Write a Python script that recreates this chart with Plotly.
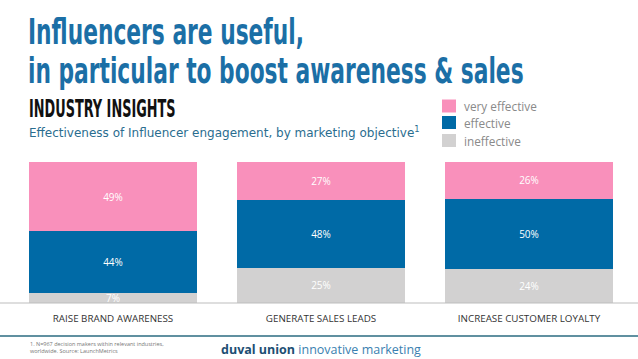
import plotly.graph_objects as go

categories = ["RAISE BRAND AWARENESS", "GENERATE SALES LEADS", "INCREASE CUSTOMER LOYALTY"]
ineffective = [7, 25, 24]
effective = [44, 48, 50]
very_effective = [49, 27, 26]

series = [
    ("ineffective", ineffective, "#d2d1d1"),
    ("effective", effective, "#006aa6"),
    ("very effective", very_effective, "#f990bb"),
]

fig = go.Figure()
for name, vals, col in series:
    fig.add_trace(go.Bar(
        x=categories, y=vals, name=name,
        marker=dict(color=col, line=dict(width=0)),
        text=[f"{v}%" for v in vals], textposition="inside",
        insidetextanchor="middle", textangle=0, constraintext="none",
        textfont=dict(family="Open Sans", size=10, color="white"),
        hoverinfo="skip",
    ))

fig.update_layout(
    width=638, height=359,
    margin=dict(l=9, r=5, t=162, b=56, autoexpand=False),
    barmode="stack", bargap=0.192,
    paper_bgcolor="white", plot_bgcolor="white",
    showlegend=False,
)
fig.update_xaxes(showline=False, showgrid=False, ticks="outside", ticklen=6,
                 tickcolor="rgba(0,0,0,0)",
                 tickfont=dict(family="Open Sans", size=9.8, color="#333333"))
fig.update_yaxes(range=[0, 100], visible=False)

def px2x(px):
    return (px - 9) / 624

def px2y(py):
    return (303 - py) / 141

# Baseline across full width
fig.add_shape(type="line", xref="paper", yref="paper", x0=px2x(0), x1=px2x(638),
              y0=0, y1=0, line=dict(color="#bdbdbd", width=1))
# Footer rule
fig.add_shape(type="line", xref="paper", yref="paper", x0=px2x(0), x1=px2x(638),
              y0=px2y(336), y1=px2y(336), line=dict(color="#2b6b80", width=1.5))

def cann(text, px, py, size, color, family, anchor="left", **kw):
    fig.add_annotation(text=text, x=px2x(px), y=px2y(py), xref="paper", yref="paper",
                       showarrow=False, xanchor=anchor, yanchor="middle",
                       font=dict(size=size, color=color, family=family), **kw)

TITLE_FONT = "DejaVu Sans Condensed, Liberation Sans Narrow, Roboto"
cann("<b>Influencers are useful,</b>", 26, 32, 24.2, "#1b6fa6", TITLE_FONT)
cann("<b>in particular to boost awareness & sales</b>", 26, 71, 24.2, "#1b6fa6", TITLE_FONT)
cann("<b>INDUSTRY INSIGHTS</b>", 27, 108, 14.3, "#111111", TITLE_FONT)
cann("Effectiveness of Influencer engagement, by marketing objective<sup>1</sup>", 27, 132, 12,
     "#2a6d8f", "DejaVu Sans")
cann("1. N=967 decision makers within relevant industries,<br>worldwide. Source: LaunchMetrics",
     28, 347, 5.5, "#777777", "Open Sans", align="left")
cann("<b>duval union</b> <span style='color:#3a7fb0'>innovative marketing</span>", 219, 349, 12.5,
     "#1d4e73", "Open Sans")

# Legend (custom), top to bottom: very effective, effective, ineffective
legend_rows = [("very effective", "#f990bb", 106), ("effective", "#006aa6", 122.5),
               ("ineffective", "#d2d1d1", 140.5)]
for label, col, cy in legend_rows:
    fig.add_shape(type="rect", xref="paper", yref="paper",
                  x0=px2x(442), x1=px2x(456), y0=px2y(cy + 6.5), y1=px2y(cy - 6.5),
                  fillcolor=col, line=dict(width=0))
    cann(label, 462, cy, 11.8, "#8a8a8a", "Open Sans")

post = """
document.body.style.margin = '0';
document.querySelectorAll('.annotation-text').forEach(function (t) {
  var s = t.textContent;
  var k = 0;
  if (s.indexOf('Influencers are') === 0 || s.indexOf('in particular') === 0) k = 1.45;
  if (s.indexOf('INDUSTRY INSIGHTS') === 0) k = 1.75;
  if (k) {
    t.style.transformBox = 'fill-box';
    t.style.transformOrigin = 'left center';
    t.style.transform = 'scaleY(' + k + ')';
  }
});
"""

fig.write_html("out.html", post_script=post, config={"displayModeBar": False})
